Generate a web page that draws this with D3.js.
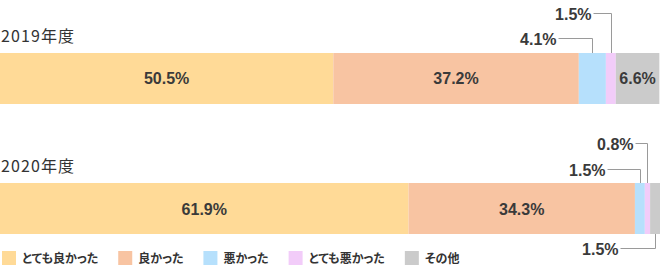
<!DOCTYPE html>
<html lang="ja">
<head>
<meta charset="utf-8">
<title>年度別 評価</title>
<style>
  body { margin: 0; padding: 0; background: #fff; }
  svg { display: block; }
  .year { font-family: "Noto Sans CJK JP", sans-serif; font-size: 16px; fill: #333; letter-spacing: 1.1px; }
  .val { font-family: "Liberation Sans", Arial, sans-serif; font-weight: bold; font-size: 16px; fill: #3a3a3a; }
  .legend text { font-family: "Noto Sans CJK JP", sans-serif; font-weight: bold; font-size: 12px; fill: #333; font-feature-settings: "palt"; }
  .leader { fill: none; stroke: #9a9a9a; stroke-width: 1px; }
</style>
</head>
<body>
<div id="chart"></div>
<script src="https://cdnjs.cloudflare.com/ajax/libs/d3/7.8.5/d3.min.js"></script>
<script>

const years = ["2019年度", "2020年度"];
const categories = ["とても良かった", "良かった", "悪かった", "とても悪かった", "その他"];
const values2019 = [50.5, 37.2, 4.1, 1.5, 6.6];
const values2020 = [61.9, 34.3, 1.5, 0.8, 1.5];
const colors = ["#ffda97", "#f8c4a2", "#b6e0fc", "#f2ccf9", "#cbcbcb"];

// small segments get a leader line instead of an inside label
// side: -1 above the bar, 1 below; level: distance from bar edge; reach: length of the horizontal arm
const callouts = [
  {year: 0, cat: 2, side: -1, level: 15.5, reach: 34},
  {year: 0, cat: 3, side: -1, level: 40, reach: 18},
  {year: 1, cat: 2, side: -1, level: 14, reach: 33},
  {year: 1, cat: 3, side: -1, level: 40, reach: 12},
  {year: 1, cat: 4, side: 1, level: 14, reach: 35}
];

const width = 660, height = 271;

const rows = [values2019, values2020].map(function(vals, i){
  let acc = 0;
  return {
    year: years[i],
    segs: vals.map(function(v, j){
      const s = {cat: j, value: v, x0: acc, x1: acc + v};
      acc += v;
      return s;
    })
  };
});

const x = d3.scaleLinear().domain([0, 100]).range([0, width]);

const y = d3.scaleBand()
  .domain(years)
  .range([53, 234])
  .paddingInner(0.6077)
  .paddingOuter(0);

const svg = d3.select("#chart").append("svg")
  .attr("width", width)
  .attr("height", height);

const row = svg.selectAll(".row")
  .data(rows)
  .enter().append("g")
  .attr("class", "row");

row.append("text")
  .attr("class", "year")
  .attr("x", 1)
  .attr("y", function(d){ return y(d.year) - 11.5; })
  .text(function(d){ return d.year; });

row.selectAll("rect")
  .data(function(d){ return d.segs.map(function(s){ s.year = d.year; return s; }); })
  .enter().append("rect")
  .attr("x", function(d){ return x(d.x0); })
  .attr("width", function(d){ return x(d.x1) - x(d.x0); })
  .attr("y", function(d){ return y(d.year); })
  .attr("height", y.bandwidth())
  .attr("fill", function(d){ return colors[d.cat]; });

function isCallout(yi, cat){
  return callouts.some(function(c){ return c.year === yi && c.cat === cat; });
}

// inside labels
rows.forEach(function(r, yi){
  svg.selectAll(null)
    .data(r.segs.filter(function(s){ return !isCallout(yi, s.cat); }))
    .enter().append("text")
    .attr("class", "val")
    .attr("text-anchor", "middle")
    .attr("x", function(d){ return x((d.x0 + d.x1) / 2); })
    .attr("y", y(r.year) + y.bandwidth() / 2 + 6)
    .text(function(d){ return d.value.toFixed(1) + "%"; });
});

// leader-line labels
callouts.forEach(function(c){
  const r = rows[c.year];
  const s = r.segs[c.cat];
  const mx = Math.round(x((s.x0 + s.x1) / 2)) + 0.5;
  const edge = c.side < 0 ? y(r.year) : y(r.year) + y.bandwidth();
  const ly = Math.round(edge + c.side * c.level) + 0.5;
  const lineStart = mx - c.reach;
  svg.append("path")
    .attr("class", "leader")
    .attr("d", "M" + lineStart + "," + ly + "H" + mx + "V" + edge);
  svg.append("text")
    .attr("class", "val")
    .attr("text-anchor", "end")
    .attr("x", lineStart - 2)
    .attr("y", ly + 6)
    .text(s.value.toFixed(1) + "%");
});

// legend
const legend = svg.append("g").attr("class", "legend");
let lx = 2;
categories.forEach(function(name, i){
  const g = legend.append("g").attr("transform", "translate(" + lx + ",251)");
  g.append("rect")
    .attr("width", 14)
    .attr("height", 14)
    .attr("fill", colors[i]);
  const t = g.append("text")
    .attr("x", 20)
    .attr("y", 12)
    .text(name);
  lx += 20 + t.node().getComputedTextLength() + 20;
});

</script>
</body>
</html>
